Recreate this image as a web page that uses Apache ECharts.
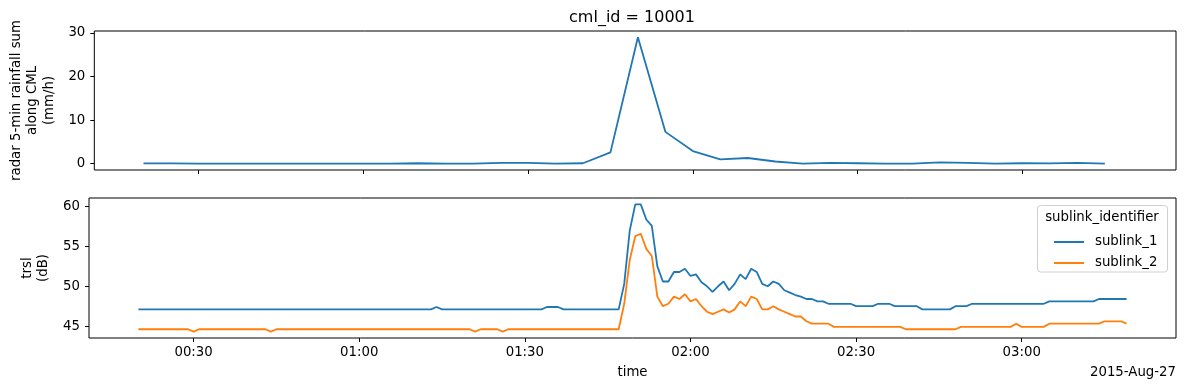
<!DOCTYPE html>
<html>
<head>
<meta charset="utf-8">
<script src="https://cdn.jsdelivr.net/npm/echarts@6/dist/echarts.min.js"></script>
<style>
html,body{margin:0;padding:0;background:#fff;}
#chart{width:1184px;height:391px;}
</style>
</head>
<body>
<div id="chart"></div>
<script>
// ---------------- data ----------------
const chartTitle = 'cml_id = 10001';
const dateLabel = '2015-Aug-27';
const topYName = 'radar 5-min rainfall sum\nalong CML\n(mm/h)';
const bottomYName = 'trsl\n(dB)';
const xName = 'time';
const legendTitle = 'sublink_identifier';
const seriesNames = ['sublink_1', 'sublink_2'];

// radar 5-min rainfall, first sample at rainStart, one sample every rainStepMin minutes
const rainStart = '00:20';
const rainStepMin = 5;
const rainfall = [
  0.05, 0.05, 0, 0, 0, 0, 0, 0, 0, 0,
  0.1, 0, 0, 0.2, 0.2, 0, 0.1, 2.6, 29.0, 7.3,
  2.9, 1.0, 1.3, 0.5, 0.0, 0.2, 0.1, 0, 0, 0.3,
  0.2, 0, 0.1, 0.05, 0.2, 0
];

// trsl, first sample at trslStart, one sample every trslStepMin minutes
const trslStart = '00:20';
const trslStepMin = 1;
const sublink1 = [
  47.1,47.1,47.1,47.1,47.1,47.1,47.1,47.1,47.1,47.1,
  47.1,47.1,47.1,47.1,47.1,47.1,47.1,47.1,47.1,47.1,
  47.1,47.1,47.1,47.1,47.1,47.1,47.1,47.1,47.1,47.1,
  47.1,47.1,47.1,47.1,47.1,47.1,47.1,47.1,47.1,47.1,
  47.1,47.1,47.1,47.1,47.1,47.1,47.1,47.1,47.1,47.1,
  47.1,47.1,47.1,47.1,47.4,47.1,47.1,47.1,47.1,47.1,
  47.1,47.1,47.1,47.1,47.1,47.1,47.1,47.1,47.1,47.1,
  47.1,47.1,47.1,47.1,47.4,47.4,47.4,47.1,47.1,47.1,
  47.1,47.1,47.1,47.1,47.1,47.1,47.1,47.1,50.3,57.0,
  60.3,60.3,58.4,57.6,52.5,50.6,50.6,51.8,51.8,52.2,
  51.3,51.5,50.5,50.0,49.3,50.0,50.6,49.5,50.3,51.5,
  50.9,52.2,51.8,50.3,50.0,50.6,50.3,49.5,49.2,48.9,
  48.7,48.4,48.4,48.1,48.1,47.8,47.8,47.8,47.8,47.8,
  47.5,47.5,47.5,47.5,47.8,47.8,47.8,47.5,47.5,47.5,
  47.5,47.5,47.1,47.1,47.1,47.1,47.1,47.1,47.5,47.5,
  47.5,47.8,47.8,47.8,47.8,47.8,47.8,47.8,47.8,47.8,
  47.8,47.8,47.8,47.8,47.8,48.1,48.1,48.1,48.1,48.1,
  48.1,48.1,48.1,48.1,48.4,48.4,48.4,48.4,48.4,48.4
];
const sublink2 = [
  44.6,44.6,44.6,44.6,44.6,44.6,44.6,44.6,44.6,44.6,
  44.3,44.6,44.6,44.6,44.6,44.6,44.6,44.6,44.6,44.6,
  44.6,44.6,44.6,44.6,44.3,44.6,44.6,44.6,44.6,44.6,
  44.6,44.6,44.6,44.6,44.6,44.6,44.6,44.6,44.6,44.6,
  44.6,44.6,44.6,44.6,44.6,44.6,44.6,44.6,44.6,44.6,
  44.6,44.6,44.6,44.6,44.6,44.6,44.6,44.6,44.6,44.6,
  44.6,44.3,44.6,44.6,44.6,44.6,44.3,44.6,44.6,44.6,
  44.6,44.6,44.6,44.6,44.6,44.6,44.6,44.6,44.6,44.6,
  44.6,44.6,44.6,44.6,44.6,44.6,44.6,44.6,47.8,53.3,
  56.3,56.6,54.7,53.8,48.7,47.5,47.8,48.7,48.4,49.0,
  48.1,48.4,47.5,46.8,46.5,46.8,47.1,46.7,47.1,48.1,
  47.5,48.7,48.4,47.1,47.1,47.5,47.1,46.8,46.5,46.2,
  46.2,45.6,45.3,45.3,45.3,45.3,44.9,44.9,44.9,44.9,
  44.9,44.9,44.9,44.9,44.9,44.9,44.9,44.9,44.9,44.6,
  44.6,44.6,44.6,44.6,44.6,44.6,44.6,44.6,44.6,44.9,
  44.9,44.9,44.9,44.9,44.9,44.9,44.9,44.9,44.9,45.3,
  44.9,44.9,44.9,44.9,44.9,45.3,45.3,45.3,45.3,45.3,
  45.3,45.3,45.3,45.3,45.3,45.6,45.6,45.6,45.6,45.3
];

const xTickLabels = ['00:30', '01:00', '01:30', '02:00', '02:30', '03:00'];
const rainTicks = [0, 10, 20, 30];
const trslTicks = [45, 50, 55, 60];

// ---------------- helpers ----------------
const FONT = 'DejaVu Sans';
const FS = 13.3;
const C1 = '#1f77b4', C2 = '#ff7f0e';
function toMin(s) { const p = s.split(':').map(Number); return p[0] * 60 + p[1]; }
const xTickVals = xTickLabels.map(toMin);
const rainData = rainfall.map((v, i) => [toMin(rainStart) + i * rainStepMin, v]);
const s1Data = sublink1.map((v, i) => [toMin(trslStart) + i * trslStepMin, v]);
const s2Data = sublink2.map((v, i) => [toMin(trslStart) + i * trslStepMin, v]);

function padExtent(vals) {
  const lo = Math.min(...vals), hi = Math.max(...vals), m = (hi - lo) * 0.05;
  return [lo - m, hi + m];
}
const allX = rainData.concat(s1Data, s2Data).map(d => d[0]);
const xExt = padExtent(allX);
const rainExt = padExtent(rainfall);
const trslExt = padExtent(sublink1.concat(sublink2));

function xAxis(idx, showLabels) {
  return {
    type: 'value', gridIndex: idx, min: xExt[0], max: xExt[1],
    axisLine: { show: false, onZero: false },
    splitLine: { show: false },
    axisTick: { show: true, length: 4, customValues: xTickVals, lineStyle: { color: '#000', width: 1 } },
    axisLabel: {
      show: showLabels, customValues: xTickVals, margin: 8,
      formatter: v => xTickLabels[xTickVals.indexOf(v)] || '',
      color: '#000', fontSize: FS, fontFamily: FONT
    },
    name: showLabels ? xName : '', nameLocation: 'middle', nameGap: 28,
    nameTextStyle: { color: '#000', fontSize: FS, fontFamily: FONT }
  };
}
function yAxis(idx, ext, ticks, name) {
  return {
    type: 'value', gridIndex: idx, min: ext[0], max: ext[1],
    axisLine: { show: false, onZero: false },
    splitLine: { show: false },
    axisTick: { show: true, length: 4, customValues: ticks, lineStyle: { color: '#000', width: 1 } },
    axisLabel: { customValues: ticks, margin: 9, color: '#000', fontSize: FS, fontFamily: FONT },
    name: name, nameLocation: 'middle', nameGap: 32, nameRotate: 90,
    nameTextStyle: { color: '#000', fontSize: FS, fontFamily: FONT, lineHeight: 16.5, align: 'center' }
  };
}

const chart = echarts.init(document.getElementById('chart'), null, { renderer: 'canvas' });
chart.setOption({
  animation: false,
  backgroundColor: '#fff',
  textStyle: { fontFamily: FONT },
  grid: [
    { left: 89, right: 8, top: 31, height: 139, show: true, borderColor: '#000', borderWidth: 1, backgroundColor: 'transparent' },
    { left: 89, right: 8, top: 198, height: 140, show: true, borderColor: '#000', borderWidth: 1, backgroundColor: 'transparent' }
  ],
  xAxis: [xAxis(0, false), xAxis(1, true)],
  yAxis: [yAxis(0, rainExt, rainTicks, topYName), yAxis(1, trslExt, trslTicks, bottomYName)],
  legend: {
    data: seriesNames.map(n => ({ name: n, icon: 'rect' })),
    orient: 'vertical', left: 1049, top: 229, z: 10,
    itemWidth: 30, itemHeight: 2, itemGap: 5, selectedMode: false,
    textStyle: { color: '#000', fontSize: FS, fontFamily: FONT, lineHeight: 16, padding: [0, 0, 0, 6] }
  },
  graphic: [
    { type: 'text', x: 632, y: 17.5, style: { text: chartTitle, fill: '#000', fontSize: 16, fontFamily: FONT, align: 'center', verticalAlign: 'middle' } },
    { type: 'text', x: 1176, y: 373, style: { text: dateLabel, fill: '#000', fontSize: FS, fontFamily: FONT, align: 'right', verticalAlign: 'middle' } },
    { type: 'rect', z: 1, shape: { x: 1037.5, y: 205.5, width: 130, height: 66.5, r: 3 }, style: { fill: 'rgba(255,255,255,0.8)', stroke: '#d0d0d0', lineWidth: 1 } },
    { type: 'text', z: 6, x: 1102, y: 218, style: { text: legendTitle, fill: '#000', fontSize: FS, fontFamily: FONT, align: 'center', verticalAlign: 'middle' } }
  ],
  series: [
    { type: 'line', xAxisIndex: 0, yAxisIndex: 0, data: rainData, symbol: 'none', lineStyle: { color: C1, width: 1.8 }, itemStyle: { color: C1 } },
    { name: seriesNames[0], type: 'line', xAxisIndex: 1, yAxisIndex: 1, data: s1Data, symbol: 'none', lineStyle: { color: C1, width: 1.8 }, itemStyle: { color: C1 } },
    { name: seriesNames[1], type: 'line', xAxisIndex: 1, yAxisIndex: 1, data: s2Data, symbol: 'none', lineStyle: { color: C2, width: 1.8 }, itemStyle: { color: C2 } }
  ]
});
</script>
</body>
</html>
